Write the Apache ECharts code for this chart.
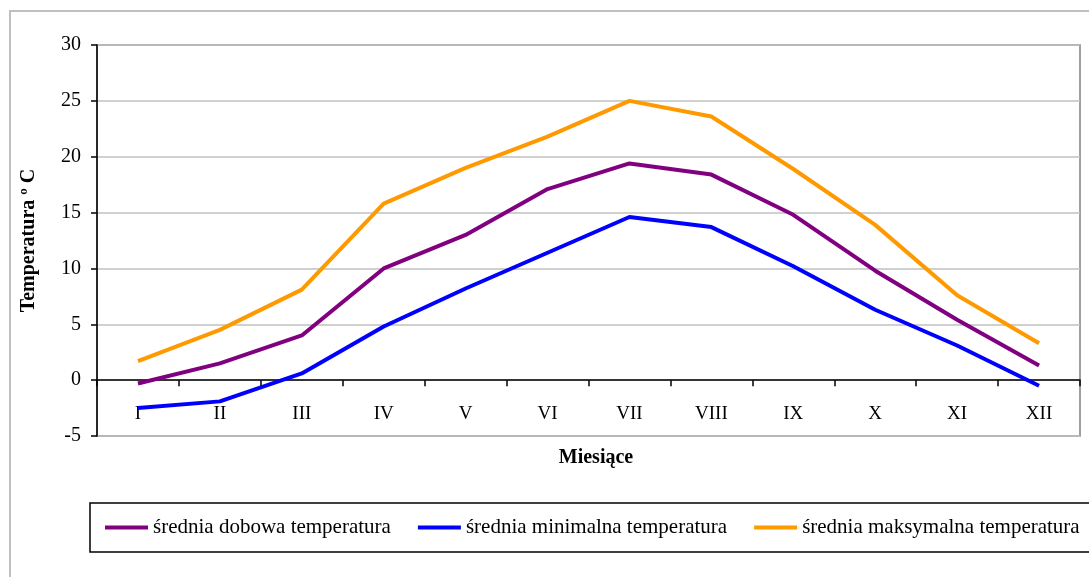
<!DOCTYPE html>
<html>
<head>
<meta charset="utf-8">
<script src="https://cdn.jsdelivr.net/npm/echarts@6/dist/echarts.min.js"></script>
<style>
    html, body { margin: 0; padding: 0; background: #fff; }
    #main { width: 1089px; height: 577px; }
</style>
</head>
<body>
<div id="main"></div>
<script type="text/javascript">
    // dane
    var months = ['I', 'II', 'III', 'IV', 'V', 'VI', 'VII', 'VIII', 'IX', 'X', 'XI', 'XII'];
    var avgDaily = [-0.3, 1.5, 4.0, 10.0, 13.0, 17.1, 19.4, 18.4, 14.8, 9.8, 5.4, 1.3];
    var avgMin = [-2.5, -1.9, 0.6, 4.8, 8.2, 11.4, 14.6, 13.7, 10.2, 6.3, 3.1, -0.5];
    var avgMax = [1.7, 4.5, 8.1, 15.8, 19.0, 21.8, 25.0, 23.6, 18.9, 13.9, 7.6, 3.3];
    var seriesNames = ['średnia dobowa temperatura', 'średnia minimalna temperatura', 'średnia maksymalna temperatura'];
    var colors = ['#800080', '#0000ff', '#ff9900'];

    var font = '"Liberation Serif", "Times New Roman", serif';
    var dom = document.getElementById('main');
    var myChart = echarts.init(dom);

    function lineSeries(name, data, color) {
        return {
            name: name,
            type: 'line',
            data: data,
            symbol: 'none',
            smooth: false,
            lineStyle: { color: color, width: 4 },
            itemStyle: { color: color }
        };
    }

    var option = {
        backgroundColor: '#fff',
        animation: false,
        textStyle: { fontFamily: font },
        graphic: [
            {
                type: 'rect',
                shape: { x: 10, y: 11, width: 1200, height: 700 },
                style: { fill: 'none', stroke: '#c0c0c0', lineWidth: 2 },
                z: -10
            }
        ],
        grid: {
            left: 97,
            right: 9,
            top: 45,
            bottom: 141,
            show: true,
            borderColor: '#808080',
            borderWidth: 1.5,
            backgroundColor: '#fff'
        },
        legend: {
            left: 90,
            top: 503,
            width: 1400,
            data: seriesNames,
            icon: 'rect',
            itemWidth: 43,
            itemHeight: 4,
            itemGap: 27,
            padding: [14, 15, 14, 15],
            borderColor: '#000',
            borderWidth: 1.5,
            textStyle: { fontFamily: font, fontSize: 21, color: '#000' }
        },
        xAxis: {
            type: 'category',
            data: months,
            boundaryGap: true,
            name: 'Miesiące',
            nameLocation: 'middle',
            nameGap: 12,
            nameTextStyle: { fontFamily: font, fontSize: 20, fontWeight: 'bold', color: '#000', padding: [0, 0, 0, 15] },
            axisLine: { onZero: true, lineStyle: { color: '#000', width: 1.5 } },
            axisTick: { show: true, length: 6, alignWithLabel: false, lineStyle: { color: '#000', width: 1.5 } },
            axisLabel: { margin: -31, fontFamily: font, fontSize: 19, color: '#000' },
            splitLine: { show: false }
        },
        yAxis: {
            type: 'value',
            min: -5,
            max: 30,
            interval: 5,
            name: 'Temperatura º C',
            nameLocation: 'middle',
            nameGap: 58,
            nameTextStyle: { fontFamily: font, fontSize: 20, fontWeight: 'bold', color: '#000' },
            axisLine: { show: true, lineStyle: { color: '#000', width: 1.5 } },
            axisTick: { show: true, length: 6, lineStyle: { color: '#000', width: 1.5 } },
            axisLabel: { margin: 16, fontFamily: font, fontSize: 20, color: '#000' },
            splitLine: { show: true, lineStyle: { color: '#c0c0c0', width: 1.5 } }
        },
        series: [
            lineSeries(seriesNames[0], avgDaily, colors[0]),
            lineSeries(seriesNames[1], avgMin, colors[1]),
            lineSeries(seriesNames[2], avgMax, colors[2])
        ]
    };

    if (option && typeof option === 'object') {
        myChart.setOption(option, true);
    }
</script>
</body>
</html>
